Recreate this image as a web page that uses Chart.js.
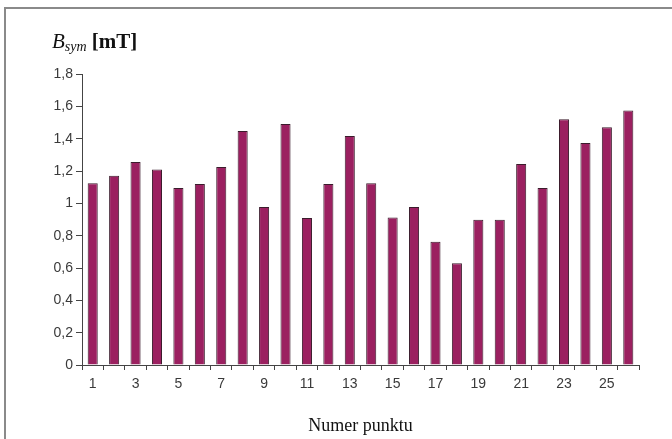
<!DOCTYPE html>
<html>
<head>
<meta charset="utf-8">
<script src="https://cdn.jsdelivr.net/npm/chart.js@4"></script>
<style>
  html, body { margin: 0; padding: 0; background: #fff; }
  #wrap { position: relative; width: 672px; height: 439px; overflow: hidden; }
  #frame { position: absolute; left: 4px; top: 7px; right: -10px; bottom: -10px; border-left: 2px solid #8a8a8a; border-top: 2px solid #8a8a8a; }
  #ylabel { position: absolute; left: 52px; top: 29px; font-family: "Liberation Serif", "Times New Roman", serif; font-size: 21px; color: #111; white-space: nowrap; }
  #ylabel sub { font-size: 14px; vertical-align: -3px; }
  canvas { position: absolute; left: 0; top: 0; }
</style>
</head>
<body>
<div id="wrap">
  <div id="frame"></div>
  <canvas id="c" width="672" height="439"></canvas>
  <div id="ylabel"><i>B</i><sub><i>sym</i></sub> <b>[mT]</b></div>
</div>
<script>
const categories = ["1","2","3","4","5","6","7","8","9","10","11","12","13","14","15","16","17","18","19","20","21","22","23","24","25","26"];
const bsymValues = [1.125, 1.17, 1.255, 1.21, 1.095, 1.12, 1.225, 1.447, 0.977, 1.49, 0.909, 1.12, 1.416, 1.125, 0.912, 0.977, 0.762, 0.63, 0.898, 0.898, 1.243, 1.095, 1.52, 1.373, 1.47, 1.575];
const yTickValues = [0, 0.2, 0.4, 0.6, 0.8, 1, 1.2, 1.4, 1.6, 1.8];
const xAxisTitle = "Numer punktu";

const fmt = v => String(Number(v.toFixed(1))).replace('.', ',');

new Chart(document.getElementById('c'), {
  type: 'bar',
  data: {
    labels: categories,
    datasets: [{
      data: bsymValues,
      backgroundColor: '#9b2060',
      borderColor: '#3b1c2c',
      borderWidth: 1,
      barPercentage: 0.47,
      categoryPercentage: 1.0
    }]
  },
  options: {
    responsive: false,
    animation: false,
    devicePixelRatio: 1,
    layout: { padding: { left: 0, right: 33, top: 74, bottom: 0 } },
    plugins: { legend: { display: false }, tooltip: { enabled: false } },
    scales: {
      x: {
        grid: { offset: true, drawOnChartArea: false, drawTicks: true, tickLength: 5, color: '#444' },
        border: { display: true, color: '#444', width: 1 },
        ticks: {
          autoSkip: false, maxRotation: 0, padding: 6,
          color: '#3a3a3a',
          font: { family: 'Liberation Sans, Arial, sans-serif', size: 14 },
          callback: function(val, idx) { return idx % 2 === 0 ? this.getLabelForValue(val) : ''; }
        },
        title: {
          display: true, text: xAxisTitle, color: '#111',
          font: { family: 'Liberation Serif, Times New Roman, serif', size: 18 },
          padding: { top: 14, bottom: 2 }
        },
        afterFit: s => { s.height = 74; }
      },
      y: {
        min: 0, max: 1.8,
        afterBuildTicks: s => { s.ticks = yTickValues.map(v => ({ value: v })); },
        grid: { drawOnChartArea: false, drawTicks: true, tickLength: 6, color: '#444' },
        border: { display: true, color: '#444', width: 1 },
        ticks: {
          padding: 3, color: '#3a3a3a',
          font: { family: 'Liberation Sans, Arial, sans-serif', size: 14 },
          callback: v => fmt(v)
        },
        afterFit: s => { s.width = 82; }
      }
    }
  }
});
</script>
</body>
</html>
